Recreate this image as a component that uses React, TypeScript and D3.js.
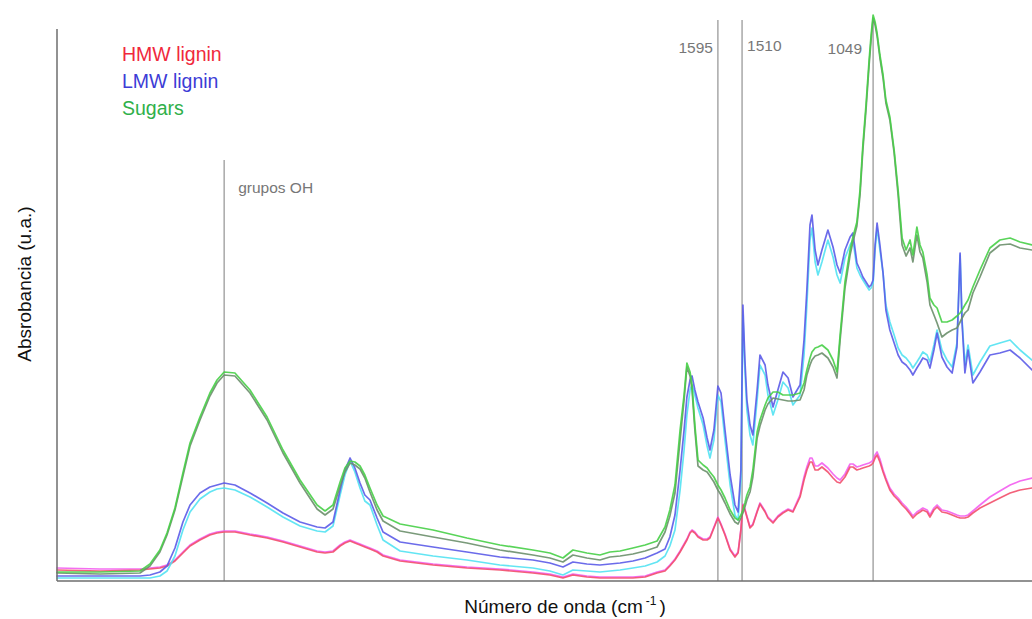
import React from "react";
import * as d3 from "d3";

// FTIR spectra of lignin fractions and sugars (two replicates each)
const wavenumbers = [
  3920, 3769, 3628, 3593, 3558, 3533, 3505, 3477, 3452, 3417,
  3382, 3357, 3332, 3294, 3241, 3181, 3125, 3065, 3005, 2977,
  2949, 2924, 2907, 2889, 2872, 2854, 2837, 2819, 2794, 2773,
  2713, 2597, 2478, 2362, 2246, 2186, 2140, 2105, 2056, 2010,
  1975, 1939, 1894, 1851, 1809, 1781, 1764, 1746, 1728, 1714,
  1704, 1693, 1686, 1676, 1665, 1647, 1633, 1623, 1609, 1595,
  1584, 1570, 1552, 1535, 1524, 1514, 1507, 1500, 1493, 1482,
  1472, 1457, 1447, 1429, 1419, 1401, 1384, 1366, 1348, 1331,
  1306, 1292, 1282, 1271, 1264, 1253, 1243, 1229, 1208, 1190,
  1176, 1165, 1148, 1130, 1120, 1106, 1095, 1085, 1074, 1063,
  1056, 1049, 1042, 1035, 1025, 1014, 1004, 990, 975, 961,
  947, 933, 919, 909, 895, 884, 874, 859, 849, 835,
  824, 807, 789, 771, 754, 743, 736, 726, 715, 698,
  673, 638, 603, 567, 532, 490,
];

const sugarsA = [
  0.018, 0.018, 0.020, 0.034, 0.062, 0.096, 0.146, 0.216, 0.276, 0.328,
  0.376, 0.402, 0.418, 0.416, 0.382, 0.328, 0.262, 0.202, 0.152, 0.140,
  0.152, 0.198, 0.226, 0.240, 0.238, 0.230, 0.212, 0.186, 0.152, 0.130,
  0.114, 0.102, 0.086, 0.072, 0.062, 0.056, 0.046, 0.062, 0.056, 0.052,
  0.058, 0.060, 0.066, 0.072, 0.080, 0.108, 0.142, 0.192, 0.302, 0.372,
  0.436, 0.418, 0.392, 0.312, 0.242, 0.232, 0.226, 0.218, 0.208, 0.192,
  0.182, 0.166, 0.142, 0.126, 0.122, 0.132, 0.142, 0.156, 0.172, 0.188,
  0.222, 0.298, 0.322, 0.352, 0.366, 0.378, 0.378, 0.372, 0.372, 0.372,
  0.376, 0.396, 0.422, 0.446, 0.458, 0.466, 0.468, 0.472, 0.462, 0.442,
  0.418, 0.492, 0.598, 0.662, 0.688, 0.718, 0.782, 0.872, 0.952, 1.042,
  1.092, 1.132, 1.118, 1.096, 1.052, 1.012, 0.962, 0.928, 0.862, 0.782,
  0.686, 0.662, 0.682, 0.652, 0.708, 0.672, 0.658, 0.612, 0.566, 0.552,
  0.546, 0.518, 0.518, 0.522, 0.530, 0.536, 0.542, 0.552, 0.562, 0.588,
  0.622, 0.666, 0.682, 0.686, 0.678, 0.672,
];

const sugarsB = [
  0.016, 0.014, 0.016, 0.030, 0.058, 0.092, 0.142, 0.210, 0.270, 0.322,
  0.370, 0.396, 0.412, 0.410, 0.376, 0.322, 0.256, 0.196, 0.144, 0.132,
  0.144, 0.190, 0.218, 0.236, 0.232, 0.224, 0.206, 0.178, 0.142, 0.120,
  0.100, 0.088, 0.076, 0.062, 0.052, 0.046, 0.038, 0.052, 0.046, 0.042,
  0.048, 0.050, 0.054, 0.060, 0.068, 0.098, 0.130, 0.176, 0.282, 0.362,
  0.428, 0.410, 0.382, 0.302, 0.230, 0.222, 0.218, 0.210, 0.198, 0.182,
  0.172, 0.156, 0.134, 0.118, 0.114, 0.126, 0.136, 0.148, 0.162, 0.178,
  0.208, 0.286, 0.310, 0.342, 0.354, 0.366, 0.364, 0.362, 0.360, 0.360,
  0.362, 0.382, 0.412, 0.432, 0.442, 0.450, 0.452, 0.456, 0.446, 0.428,
  0.406, 0.482, 0.586, 0.652, 0.678, 0.710, 0.772, 0.862, 0.942, 1.032,
  1.082, 1.126, 1.112, 1.090, 1.046, 1.006, 0.956, 0.922, 0.856, 0.772,
  0.672, 0.650, 0.666, 0.638, 0.692, 0.658, 0.646, 0.598, 0.552, 0.532,
  0.516, 0.488, 0.496, 0.502, 0.506, 0.518, 0.526, 0.536, 0.542, 0.576,
  0.608, 0.656, 0.672, 0.674, 0.666, 0.662,
];

const lmwLigninA = [
  0.010, 0.010, 0.010, 0.012, 0.018, 0.030, 0.066, 0.118, 0.152, 0.176,
  0.188, 0.192, 0.196, 0.192, 0.176, 0.156, 0.136, 0.118, 0.108, 0.106,
  0.118, 0.182, 0.222, 0.246, 0.226, 0.196, 0.172, 0.162, 0.126, 0.098,
  0.078, 0.068, 0.058, 0.048, 0.042, 0.036, 0.028, 0.038, 0.034, 0.032,
  0.034, 0.036, 0.040, 0.046, 0.056, 0.064, 0.088, 0.132, 0.222, 0.302,
  0.368, 0.402, 0.410, 0.382, 0.358, 0.326, 0.286, 0.262, 0.302, 0.390,
  0.376, 0.302, 0.212, 0.152, 0.138, 0.222, 0.552, 0.442, 0.362, 0.312,
  0.292, 0.382, 0.452, 0.432, 0.392, 0.348, 0.382, 0.418, 0.406, 0.368,
  0.392, 0.482, 0.582, 0.712, 0.732, 0.662, 0.632, 0.662, 0.702, 0.668,
  0.632, 0.616, 0.662, 0.688, 0.696, 0.636, 0.622, 0.608, 0.598, 0.588,
  0.592, 0.602, 0.672, 0.716, 0.672, 0.616, 0.542, 0.502, 0.476, 0.452,
  0.438, 0.432, 0.422, 0.412, 0.426, 0.436, 0.446, 0.442, 0.426, 0.462,
  0.496, 0.448, 0.428, 0.416, 0.468, 0.656, 0.516, 0.416, 0.462, 0.396,
  0.418, 0.452, 0.456, 0.462, 0.446, 0.422,
];

const lmwLigninB = [
  0.006, 0.006, 0.006, 0.006, 0.010, 0.020, 0.050, 0.102, 0.138, 0.164,
  0.178, 0.184, 0.186, 0.182, 0.168, 0.148, 0.128, 0.110, 0.100, 0.098,
  0.110, 0.172, 0.212, 0.240, 0.218, 0.186, 0.160, 0.152, 0.112, 0.082,
  0.060, 0.050, 0.042, 0.032, 0.026, 0.020, 0.012, 0.022, 0.020, 0.018,
  0.020, 0.022, 0.026, 0.030, 0.038, 0.050, 0.070, 0.102, 0.182, 0.262,
  0.332, 0.382, 0.392, 0.372, 0.346, 0.312, 0.270, 0.246, 0.282, 0.372,
  0.358, 0.282, 0.192, 0.132, 0.122, 0.202, 0.532, 0.422, 0.342, 0.292,
  0.272, 0.362, 0.432, 0.412, 0.372, 0.332, 0.362, 0.398, 0.386, 0.352,
  0.372, 0.452, 0.552, 0.682, 0.706, 0.638, 0.612, 0.638, 0.682, 0.648,
  0.612, 0.596, 0.646, 0.672, 0.682, 0.626, 0.612, 0.602, 0.592, 0.582,
  0.586, 0.596, 0.662, 0.706, 0.662, 0.616, 0.552, 0.518, 0.492, 0.466,
  0.452, 0.446, 0.436, 0.426, 0.438, 0.448, 0.458, 0.452, 0.438, 0.472,
  0.502, 0.462, 0.442, 0.428, 0.476, 0.652, 0.522, 0.432, 0.472, 0.412,
  0.438, 0.470, 0.476, 0.482, 0.462, 0.442,
];

const hmwLigninA = [
  0.022, 0.020, 0.022, 0.024, 0.026, 0.030, 0.040, 0.056, 0.070, 0.082,
  0.092, 0.096, 0.098, 0.098, 0.092, 0.086, 0.078, 0.068, 0.058, 0.056,
  0.058, 0.070, 0.076, 0.080, 0.076, 0.072, 0.068, 0.064, 0.058, 0.050,
  0.040, 0.032, 0.026, 0.022, 0.016, 0.012, 0.006, 0.012, 0.008, 0.006,
  0.006, 0.006, 0.006, 0.008, 0.016, 0.020, 0.030, 0.042, 0.058, 0.072,
  0.082, 0.096, 0.100, 0.096, 0.088, 0.082, 0.082, 0.086, 0.106, 0.126,
  0.112, 0.092, 0.062, 0.048, 0.056, 0.102, 0.152, 0.142, 0.128, 0.106,
  0.112, 0.138, 0.154, 0.138, 0.126, 0.116, 0.128, 0.136, 0.142, 0.138,
  0.168, 0.202, 0.222, 0.238, 0.238, 0.222, 0.222, 0.228, 0.218, 0.206,
  0.198, 0.196, 0.208, 0.228, 0.228, 0.222, 0.224, 0.226, 0.228, 0.230,
  0.232, 0.236, 0.246, 0.252, 0.238, 0.218, 0.202, 0.182, 0.170, 0.162,
  0.152, 0.144, 0.134, 0.126, 0.134, 0.138, 0.142, 0.138, 0.128, 0.142,
  0.148, 0.138, 0.136, 0.132, 0.128, 0.126, 0.126, 0.126, 0.128, 0.136,
  0.146, 0.156, 0.166, 0.176, 0.182, 0.186,
];

const hmwLigninB = [
  0.026, 0.024, 0.024, 0.026, 0.028, 0.032, 0.042, 0.058, 0.072, 0.084,
  0.094, 0.098, 0.100, 0.100, 0.094, 0.088, 0.080, 0.070, 0.060, 0.058,
  0.060, 0.072, 0.078, 0.082, 0.078, 0.074, 0.070, 0.066, 0.060, 0.052,
  0.042, 0.034, 0.028, 0.024, 0.018, 0.014, 0.008, 0.014, 0.010, 0.008,
  0.008, 0.008, 0.008, 0.010, 0.018, 0.022, 0.032, 0.044, 0.060, 0.074,
  0.084, 0.098, 0.102, 0.098, 0.090, 0.084, 0.084, 0.088, 0.108, 0.128,
  0.114, 0.094, 0.064, 0.050, 0.058, 0.104, 0.154, 0.144, 0.130, 0.108,
  0.114, 0.140, 0.156, 0.140, 0.128, 0.118, 0.130, 0.138, 0.144, 0.140,
  0.172, 0.208, 0.228, 0.246, 0.246, 0.230, 0.230, 0.236, 0.226, 0.214,
  0.206, 0.202, 0.214, 0.234, 0.234, 0.228, 0.230, 0.232, 0.234, 0.236,
  0.238, 0.242, 0.252, 0.258, 0.244, 0.222, 0.206, 0.186, 0.174, 0.166,
  0.156, 0.148, 0.138, 0.130, 0.138, 0.142, 0.146, 0.142, 0.132, 0.146,
  0.152, 0.142, 0.140, 0.136, 0.132, 0.130, 0.130, 0.130, 0.132, 0.140,
  0.152, 0.168, 0.180, 0.192, 0.200, 0.206,
];

// Drawing order: back to front
const spectra = [
  { key: "hmwB", values: hmwLigninB, color: "#f35ef0" },
  { key: "hmwA", values: hmwLigninA, color: "#f2506b" },
  { key: "lmwB", values: lmwLigninB, color: "#52e2f2" },
  { key: "lmwA", values: lmwLigninA, color: "#5b5be8" },
  { key: "sugB", values: sugarsB, color: "#6c8f6c" },
  { key: "sugA", values: sugarsA, color: "#47cf47" },
];

const legendLabels = ["HMW lignin", "LMW lignin", "Sugars"];
const legendColors = ["#f0283c", "#3c3cd6", "#2fb04a"];

// Marked bands: wavenumber, label, label side
const bandPositions = [3332, 1595, 1510, 1049];
const bandLabels = ["grupos OH", "1595", "1510", "1049"];

const W = 1032;
const H = 619;
const left = 57;
const right = 1032;
const bottom = 581;
const top = 31;

export default function App() {
  const x = d3.scaleLinear().domain([3920, 490]).range([left, right]);
  const y = d3.scaleLinear().domain([0, 1.1]).range([bottom, top]);

  const line = d3
    .line<number>()
    .x((_, i) => x(wavenumbers[i]))
    .y((v) => y(v))
    .curve(d3.curveLinear);

  const font = "'Liberation Sans', Arial, sans-serif";

  return (
    <svg
      width={W}
      height={H}
      viewBox={`0 0 ${W} ${H}`}
      style={{ position: "absolute", left: 0, top: 0, background: "#fff" }}
      fontFamily={font}
    >
      {/* band markers */}
      {bandPositions.map((wn, i) => {
        const bx = x(wn);
        const y1 = i === 0 ? 160 : 20;
        return (
          <line
            key={`band-${wn}`}
            x1={bx}
            x2={bx}
            y1={y1}
            y2={bottom}
            stroke="#9a9a9a"
            strokeWidth={1.3}
          />
        );
      })}

      {/* spectra */}
      <g fill="none" strokeLinejoin="round" strokeLinecap="round">
        {spectra.map((s) => (
          <path
            key={s.key}
            d={line(s.values) || ""}
            stroke={s.color}
            strokeWidth={1.7}
            strokeOpacity={0.9}
          />
        ))}
      </g>

      {/* band labels */}
      <g fill="#777" fontSize={15.5}>
        <text x={x(bandPositions[0]) + 14} y={193}>
          {bandLabels[0]}
        </text>
        <text x={x(bandPositions[1]) - 5} y={53} textAnchor="end">
          {bandLabels[1]}
        </text>
        <text x={x(bandPositions[2]) + 5} y={51}>
          {bandLabels[2]}
        </text>
        <text x={x(bandPositions[3]) - 11} y={54} textAnchor="end">
          {bandLabels[3]}
        </text>
      </g>

      {/* axes */}
      <line x1={left} x2={left} y1={29} y2={bottom} stroke="#6e6e6e" strokeWidth={1.5} />
      <line x1={left} x2={right} y1={bottom} y2={bottom} stroke="#6e6e6e" strokeWidth={1.5} />

      {/* legend */}
      <g fontSize={19.5}>
        {legendLabels.map((lab, i) => (
          <text key={lab} x={122} y={61 + i * 27} fill={legendColors[i]}>
            {lab}
          </text>
        ))}
      </g>

      {/* axis titles */}
      <text
        transform={`translate(31, 284) rotate(-90)`}
        textAnchor="middle"
        fontSize={19}
        fill="#111"
      >
        Absrobancia (u.a.)
      </text>
      <text x={565} y={613} textAnchor="middle" fontSize={19} fill="#111">
        Número de onda (cm
        <tspan fontSize={12} dy={-8} dx={3}>-1</tspan>
        <tspan dy={8} dx={3}>)</tspan>
      </text>
    </svg>
  );
}
